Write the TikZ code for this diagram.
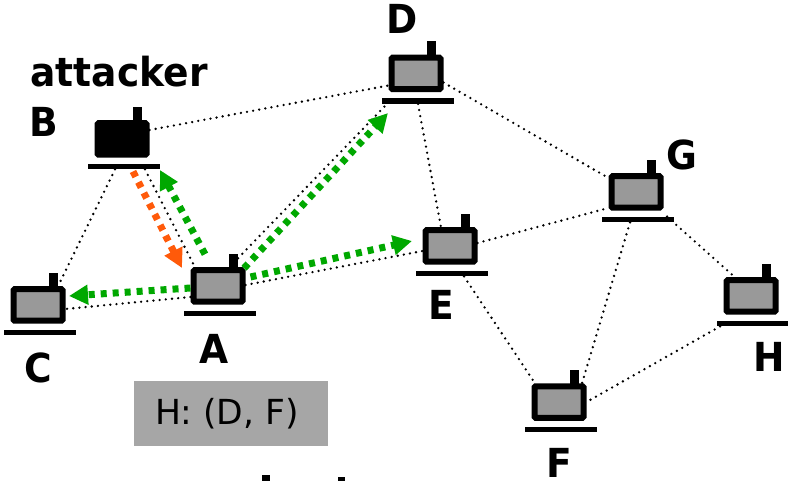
\documentclass[tikz,border=0pt]{standalone}
\usepackage{fontspec}
\setmainfont[BoldFeatures={FakeStretch=0.94}]{DejaVu Sans}
\usetikzlibrary{arrows.meta}
\definecolor{bodygray}{HTML}{999999}
\definecolor{boxgray}{HTML}{A6A6A6}
\definecolor{replygreen}{HTML}{00A800}
\definecolor{rreqorange}{HTML}{FF5A0A}
\begin{document}
\begin{tikzpicture}[x=1pt, y=-1pt,
				device/.style = {draw=black, line width=6pt, rounded corners=1pt, inner sep=0pt, minimum width=49pt, minimum height=31.5pt},
				antenna/.style = {fill=black, inner sep=0pt, minimum width=9pt, minimum height=14pt},
				pad/.style = {fill=black, inner sep=0pt, minimum width=72pt, minimum height=5.5pt},
				link/.style = {line width=2.6pt, line cap=round, dash pattern=on 0pt off 6.2pt},
				flood/.style = {line width=7pt, dash pattern=on 6pt off 6pt, -{Triangle[length=19pt,width=19pt]}},
				letter/.style = {font=\fontsize{40}{40}\selectfont\bfseries, inner sep=0pt}]

				\useasboundingbox (0,0) rectangle (788,481);

				\foreach \n/\x/\y/\c in {A/218/286/bodygray, B/122/139/black, C/38/305/bodygray, D/416/73.5/bodygray, E/450/246/bodygray, F/559/402/bodygray, G/636/192/bodygray, H/751/296/bodygray}{
					\node[antenna] (\n ant) at (\x+15.5,\y-25) {};
					\node[pad] (\n bar) at (\x+2,\y+27.5) {};
					\node[device, fill=\c] (\n) at (\x,\y) {};
				}

				\draw[link] ([yshift=9pt]B.east) -- ([yshift=-12pt]D.west);
				\draw[link] ([xshift=-9pt]Bbar.south) -- ([xshift=20pt]C.north);
				\draw[link] ([xshift=21pt]Bbar.south) -- ([xshift=-23pt]A.north);
				\draw[link] ([yshift=-11pt]A.west) -- ([yshift=-4pt]C.east);
				\draw[link] ([xshift=20pt,yshift=9pt]A.north) -- ([xshift=-31pt]Dbar.south);
				\draw[link] ([yshift=1pt]A.east) -- ([yshift=-5pt]E.west);
				\draw[link] (Dbar.south) -- ([xshift=-9pt]E.north);
				\draw[link] ([yshift=-9pt]D.east) -- ([yshift=14pt]G.west);
				\draw[link] ([yshift=3pt]E.east) -- ([yshift=-16pt]G.west);
				\draw[link] ([xshift=12pt]Ebar.south) -- ([xshift=-24pt]F.north);
				\draw[link] ([xshift=-8pt]Gbar.south) -- ([xshift=23pt]F.north);
				\draw[link] ([xshift=29pt]Gbar.north) -- ([xshift=-16pt]H.north);
				\draw[link] ([xshift=-33pt]Hbar.south) -- (F.east);

				\coordinate (tipC) at (69,296);
				\coordinate (tipB) at (160,170);
				\coordinate (tipD) at (388,113);
				\coordinate (tipE) at (412,241);
				\coordinate (tipA) at (182,268);
				\draw[flood, replygreen] ([yshift=-2pt]A.west) -- (tipC);
				\draw[flood, replygreen] ([xshift=-13pt,yshift=13pt]A.north) -- (tipB);
				\draw[flood, replygreen] ([xshift=26pt,yshift=-1pt]A.north) -- (tipD);
				\draw[flood, replygreen] ([xshift=5pt,yshift=9pt]A.east) -- (tipE);
				\draw[flood, rreqorange] ([xshift=9pt,yshift=-2pt]Bbar.south) -- (tipA);

				\node[fill=boxgray, inner sep=0pt, minimum height=65pt, font=\fontsize{34.5}{34.5}\selectfont] (hdr) at (231,413.5) {\makebox[194pt][l]{\hspace*{21pt}H: (D, F)}};

				\node[letter] (attacker) at (119,72) {attacker};
				\node[letter] (lb) at (44,122) {B};
				\node[letter] (la) at (214,349) {A};
				\node[letter] (lc) at (38,368) {C};
				\node[letter] (ld) at (402,19) {D};
				\node[letter] (le) at (441,305) {E};
				\node[letter] (lf) at (559,463) {F};
				\node[letter] (lg) at (682,155) {G};
				\node[letter] (lh) at (769,357) {H};

				\fill[black] (262,475) rectangle (270,481);
				\fill[black] (338,477) rectangle (345,481);
			\end{tikzpicture}
\end{document}
